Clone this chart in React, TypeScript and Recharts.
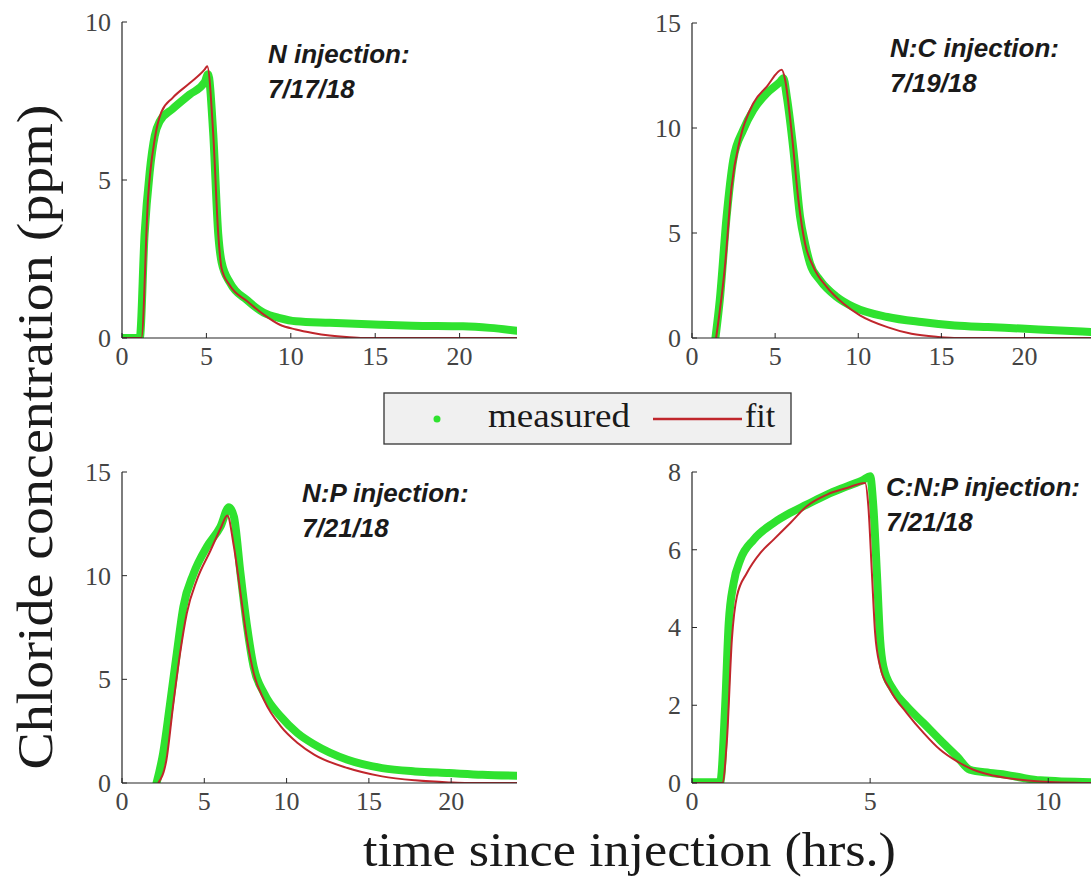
import { LineChart, Line, XAxis, YAxis } from "recharts";

// ---- N injection 7/17/18 ----
const nMeasT = [0, 0.5, 1.05, 1.34, 1.64, 1.94, 2.23, 3.0, 4.0, 4.9, 5.1, 5.4, 5.7, 5.9, 6.4, 7.4, 8.4, 9.35, 10.3, 12.3, 15.3, 17.2, 20.2, 21.8, 23.4];
const nMeasV = [0, 0, 0, 3.3, 5.25, 6.4, 6.85, 7.25, 7.7, 8.1, 8.35, 6.5, 3.3, 2.4, 1.75, 1.2, 0.8, 0.63, 0.53, 0.48, 0.42, 0.39, 0.37, 0.32, 0.23];
const nFitT = [0, 1.15, 1.54, 1.94, 2.33, 3.0, 4.0, 4.9, 5.05, 5.4, 5.7, 5.9, 6.4, 7.4, 8.4, 9.35, 10.3, 11.3, 12.3, 13.3, 14.3, 23.4];
const nFitV = [0, 0, 4.4, 6.3, 7.15, 7.6, 8.06, 8.5, 8.6, 6.5, 3.3, 2.2, 1.65, 1.17, 0.74, 0.42, 0.27, 0.16, 0.08, 0.03, 0, 0];

// ---- N:C injection 7/19/18 ----
const ncMeasT = [1.41, 1.67, 2.08, 2.48, 3.08, 3.69, 4.5, 5.3, 5.5, 5.7, 6.1, 6.5, 6.8, 7.1, 7.7, 8.7, 9.7, 11.75, 13.8, 15.8, 17.8, 19.8, 21.8, 24];
const ncMeasV = [0, 1.8, 5.77, 8.47, 9.9, 10.86, 11.65, 12.2, 12.37, 11.5, 8.95, 5.77, 4.5, 3.55, 2.75, 1.96, 1.48, 1.0, 0.76, 0.6, 0.52, 0.45, 0.37, 0.29];
const ncFitT = [1.45, 1.98, 2.38, 2.88, 3.69, 4.5, 5.4, 5.6, 6.0, 6.4, 6.8, 7.3, 8.1, 9.1, 10.1, 11.75, 13.2, 14.8, 16, 24];
const ncFitV = [0, 3.4, 7.2, 9.43, 11.18, 11.97, 12.77, 12.3, 9.75, 6.57, 4.5, 3.39, 2.43, 1.64, 1.08, 0.52, 0.2, 0.05, 0, 0];

// ---- N:P injection 7/21/18 ----
const npMeasT = [2.1, 2.5, 2.9, 3.33, 3.73, 4.35, 5.16, 5.98, 6.5, 6.8, 7.2, 7.6, 8.0, 8.63, 9.65, 10.67, 11.7, 13.7, 15.8, 17.8, 19.86, 21.9, 24];
const npMeasV = [0, 1.44, 3.7, 6.26, 8.5, 10.1, 11.4, 12.36, 13.3, 12.84, 10.1, 7.54, 5.6, 4.33, 3.2, 2.4, 1.85, 1.12, 0.72, 0.56, 0.48, 0.4, 0.35];
const npFitT = [2.2, 2.7, 3.1, 3.53, 3.94, 4.55, 5.37, 6.0, 6.4, 6.8, 7.2, 7.6, 8.0, 8.63, 9.65, 10.67, 11.7, 13.7, 15.8, 17.8, 19.86, 21, 24];
const npFitV = [0, 1.12, 3.7, 6.26, 8.2, 9.8, 11.2, 12.3, 12.9, 11.4, 9.15, 6.9, 5.3, 4.0, 2.73, 1.93, 1.36, 0.72, 0.32, 0.13, 0.03, 0, 0];

// ---- C:N:P injection 7/21/18 ----
const cnpMeasT = [0, 0.79, 0.93, 1.03, 1.17, 1.36, 1.73, 2.29, 2.76, 3.22, 3.79, 4.35, 4.81, 5.0, 5.09, 5.19, 5.28, 5.37, 5.65, 6.03, 6.5, 6.96, 7.43, 7.8, 8.36, 8.83, 9.3, 9.77, 11.2];
const cnpMeasV = [0.02, 0.02, 1.97, 4.1, 5.15, 5.75, 6.26, 6.69, 6.95, 7.16, 7.42, 7.63, 7.8, 7.89, 7.12, 5.4, 3.69, 3.0, 2.4, 1.97, 1.54, 1.11, 0.69, 0.34, 0.26, 0.21, 0.13, 0.07, 0.02];
const cnpFitT = [0, 0.85, 0.98, 1.12, 1.26, 1.54, 1.92, 2.29, 2.76, 3.22, 3.79, 4.35, 4.86, 4.95, 5.05, 5.14, 5.28, 5.56, 6.03, 6.5, 6.96, 7.43, 7.9, 8.36, 8.83, 9.77, 11.2];
const cnpFitV = [0, 0, 1.1, 3.7, 4.8, 5.4, 5.92, 6.26, 6.69, 7.12, 7.42, 7.59, 7.72, 7.12, 5.4, 3.86, 3.0, 2.4, 1.8, 1.29, 0.86, 0.56, 0.34, 0.21, 0.13, 0.04, 0];

// ticks
const xTicksLong = [0, 5, 10, 15, 20];
const xTicksShort = [0, 5, 10];
const yTicks10 = [0, 5, 10];
const yTicks15 = [0, 5, 10, 15];
const yTicks8 = [0, 2, 4, 6, 8];

const zip = (t: number[], v: number[]) => t.map((x, i) => ({ t: x, v: v[i] }));

const GREEN = "#2fe22f";
const RED = "#c0262c";
const AXIS = "#262626";
const SERIF = "'Liberation Serif', 'DejaVu Serif', serif";
const SANS = "'Liberation Sans', Arial, sans-serif";

const panels = [
  { key: "n", left: 122, top: 22, plotW: 395, plotH: 316, xMax: 23.4, yMax: 10, xTicks: xTicksLong, yTicks: yTicks10, meas: zip(nMeasT, nMeasV), fit: zip(nFitT, nFitV) },
  { key: "nc", left: 692, top: 23, plotW: 399, plotH: 315, xMax: 24, yMax: 15, xTicks: xTicksLong, yTicks: yTicks15, meas: zip(ncMeasT, ncMeasV), fit: zip(ncFitT, ncFitV) },
  { key: "np", left: 122, top: 472, plotW: 395, plotH: 311, xMax: 24, yMax: 15, xTicks: xTicksLong, yTicks: yTicks15, meas: zip(npMeasT, npMeasV), fit: zip(npFitT, npFitV) },
  { key: "cnp", left: 692, top: 472, plotW: 399, plotH: 311, xMax: 11.2, yMax: 8, xTicks: xTicksShort, yTicks: yTicks8, meas: zip(cnpMeasT, cnpMeasV), fit: zip(cnpFitT, cnpFitV) },
];

const notes = [
  { x: 268, y: 63, lines: ["N injection:", "7/17/18"] },
  { x: 890, y: 57, lines: ["N:C injection:", "7/19/18"] },
  { x: 302, y: 502, lines: ["N:P injection:", "7/21/18"] },
  { x: 886, y: 496, lines: ["C:N:P injection:", "7/21/18"] },
];

function XTick(props: any) {
  const { x, y, payload } = props;
  return (
    <text x={x} y={y} dy="0.71em" textAnchor="middle" fontFamily={SERIF} fontSize={26} fill="#444">
      {payload.value}
    </text>
  );
}

function YTick(props: any) {
  const { x, y, payload } = props;
  return (
    <text x={x} y={y} dy="0.34em" textAnchor="end" fontFamily={SERIF} fontSize={26} fill="#444">
      {payload.value}
    </text>
  );
}

function Panel({ p }: { p: (typeof panels)[number] }) {
  const yw = 60;
  const mt = 20;
  const xh = 44;
  const mr = 12;
  return (
    <div style={{ position: "absolute", left: p.left - yw, top: p.top - mt }}>
      <LineChart
        width={yw + p.plotW + mr}
        height={mt + p.plotH + xh}
        margin={{ top: mt, right: mr, bottom: 0, left: 0 }}
      >
        <XAxis
          type="number"
          dataKey="t"
          domain={[0, p.xMax]}
          ticks={p.xTicks}
          interval={0}
          allowDataOverflow
          height={xh}
          tickSize={-5}
          tickMargin={14}
          axisLine={{ stroke: AXIS, strokeWidth: 1.2 }}
          tickLine={{ stroke: AXIS }}
          tick={<XTick />}
        />
        <YAxis
          type="number"
          domain={[0, p.yMax]}
          ticks={p.yTicks}
          interval={0}
          allowDataOverflow
          width={yw}
          tickSize={-5}
          tickMargin={16}
          axisLine={{ stroke: AXIS, strokeWidth: 1.2 }}
          tickLine={{ stroke: AXIS }}
          tick={<YTick />}
        />
        <Line
          data={p.meas}
          dataKey="v"
          type="monotone"
          stroke={GREEN}
          strokeWidth={8}
          strokeLinecap="round"
          strokeLinejoin="round"
          dot={false}
          isAnimationActive={false}
        />
        <Line
          data={p.fit}
          dataKey="v"
          type="monotone"
          stroke={RED}
          strokeWidth={2}
          dot={false}
          isAnimationActive={false}
        />
      </LineChart>
    </div>
  );
}

export default function App() {
  return (
    <div
      style={{
        position: "absolute",
        left: 0,
        top: 0,
        width: 1091,
        height: 882,
        background: "#fff",
        overflow: "hidden",
      }}
    >
      {panels.map((p) => (
        <Panel key={p.key} p={p} />
      ))}
      <svg
        width={1091}
        height={882}
        style={{ position: "absolute", left: 0, top: 0, pointerEvents: "none" }}
      >
        {notes.map((n, i) => (
          <text key={i} fontFamily={SANS} fontSize={26} fontWeight="bold" fontStyle="italic" fill="#1a1a1a">
            <tspan x={n.x} y={n.y}>{n.lines[0]}</tspan>
            <tspan x={n.x} y={n.y + 35}>{n.lines[1]}</tspan>
          </text>
        ))}

        {/* legend */}
        <rect x={384} y={393} width={407} height={51} fill="#f0f0f0" stroke="#333" strokeWidth={1.3} />
        <circle cx={437} cy={419} r={3.5} fill={GREEN} />
        <text x={488} y={427} fontFamily={SERIF} fontSize={34} fill="#1a1a1a" textLength={142} lengthAdjust="spacingAndGlyphs">
          measured
        </text>
        <line x1={653} x2={742} y1={419} y2={419} stroke={RED} strokeWidth={2.5} />
        <text x={745} y={427} fontFamily={SERIF} fontSize={34} fill="#1a1a1a">
          fit
        </text>

        {/* axis titles */}
        <text
          x={0}
          y={0}
          transform="translate(52,437) rotate(-90)"
          textAnchor="middle"
          fontFamily={SERIF}
          fontSize={50}
          fill="#1a1a1a"
          textLength={665}
          lengthAdjust="spacingAndGlyphs"
        >
          Chloride concentration (ppm)
        </text>
        <text
          x={363}
          y={866}
          fontFamily={SERIF}
          fontSize={48}
          fill="#1a1a1a"
          textLength={533}
          lengthAdjust="spacingAndGlyphs"
        >
          time since injection (hrs.)
        </text>
      </svg>
    </div>
  );
}
